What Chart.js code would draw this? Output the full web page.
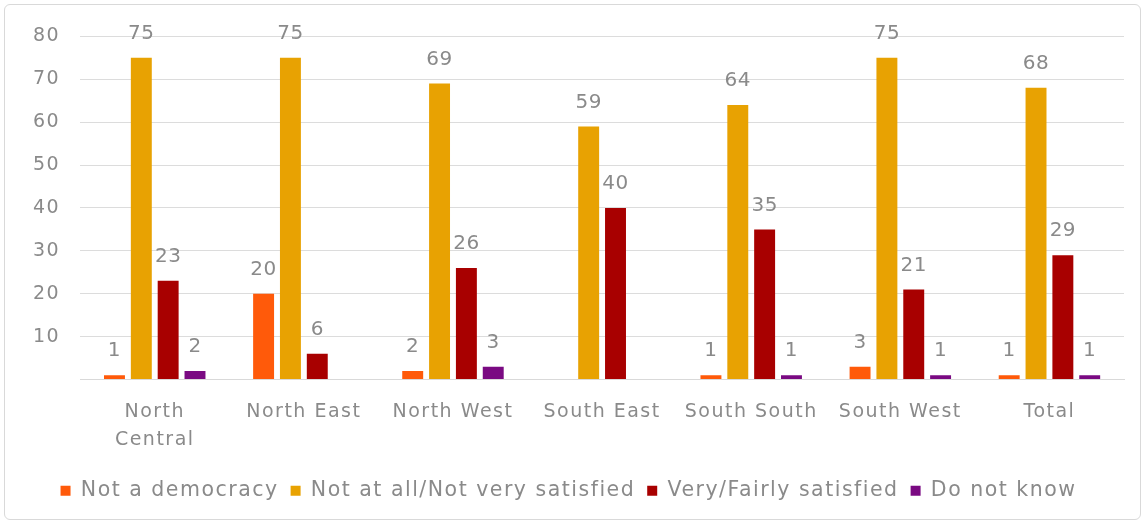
<!DOCTYPE html>
<html>
<head>
<meta charset="utf-8">
<script src="https://cdn.jsdelivr.net/npm/chart.js@4"></script>
<style>
  html, body { margin: 0; padding: 0; background: #fff; }
  .wrap {
    position: absolute;
    left: 4px; top: 4px;
    width: 1137px; height: 516px;
    border: 1px solid #d9d9d9;
    border-radius: 6px;
    box-sizing: border-box;
  }
  canvas { position: absolute; left: 0; top: 0; }
</style>
</head>
<body>
<div class="wrap"><canvas id="chart" width="1137" height="516"></canvas></div>
<script>
const regions = [["North", "Central"], "North East", "North West", "South East", "South South", "South West", "Total"];
const notDemocracy = [1, 20, 2, null, 1, 3, 1];
const notSatisfied = [75, 75, 69, 59, 64, 75, 68];
const satisfied = [23, 6, 26, 40, 35, 21, 29];
const doNotKnow = [2, null, 3, null, 1, 1, 1];
const yTicks = [10, 20, 30, 40, 50, 60, 70, 80];

const FONT = "'DejaVu Sans', sans-serif";
const GREY = "#8a8a8a";
const SPACING = "1.5px";

// wider letters, closer to the original's geometric face
const spacing = {
  id: "spacing",
  beforeUpdate(chart) { chart.ctx.letterSpacing = SPACING; },
  beforeDraw(chart) { chart.ctx.letterSpacing = SPACING; },
};

// draws the number above each bar
const barLabels = {
  id: "barLabels",
  afterDatasetsDraw(chart) {
    const ctx = chart.ctx;
    ctx.save();
    ctx.letterSpacing = "0.5px";
    ctx.font = "20px " + FONT;
    ctx.fillStyle = GREY;
    ctx.textAlign = "center";
    ctx.textBaseline = "bottom";
    chart.data.datasets.forEach((ds, i) => {
      chart.getDatasetMeta(i).data.forEach((bar, j) => {
        const v = ds.data[j];
        if (v === null || v === undefined) return;
        ctx.fillText(String(v), bar.x, bar.y - 14);
      });
    });
    ctx.restore();
  },
};

new Chart(document.getElementById("chart"), {
  type: "bar",
  data: {
    labels: regions,
    datasets: [
      { label: "Not a democracy", data: notDemocracy, backgroundColor: "#ff5a0a" },
      { label: "Not at all/Not very satisfied", data: notSatisfied, backgroundColor: "#e8a202" },
      { label: "Very/Fairly satisfied", data: satisfied, backgroundColor: "#a80000" },
      { label: "Do not know", data: doNotKnow, backgroundColor: "#7a0a82" },
    ],
  },
  options: {
    responsive: false,
    animation: false,
    categoryPercentage: 0.72,
    barPercentage: 0.78,
    layout: { padding: { top: 18, right: 18, left: 8, bottom: 10 } },
    plugins: {
      legend: {
        position: "bottom",
        labels: {
          color: GREY,
          font: { size: 20.5, family: FONT },
          boxWidth: 10,
          boxHeight: 10,
          padding: 12,
        },
      },
      tooltip: { enabled: false },
    },
    scales: {
      x: {
        grid: { display: false },
        border: { color: "#d9d9d9" },
        afterFit: (s) => { s.height += 4; },
        ticks: {
          color: GREY,
          font: { size: 19, family: FONT, lineHeight: 1.5 },
          maxRotation: 0,
          autoSkip: false,
          padding: 10,
        },
      },
      y: {
        min: 0,
        max: 80,
        afterBuildTicks: (axis) => {
          axis.ticks = [0, ...yTicks].map((v) => ({ value: v }));
        },
        border: { display: false },
        grid: { color: "#dcdcdc", drawTicks: false },
        ticks: {
          color: GREY,
          font: { size: 19, family: FONT },
          padding: 20,
          callback: (v) => (v === 0 ? "" : v),
        },
      },
    },
  },
  plugins: [spacing, barLabels],
});
</script>
</body>
</html>
